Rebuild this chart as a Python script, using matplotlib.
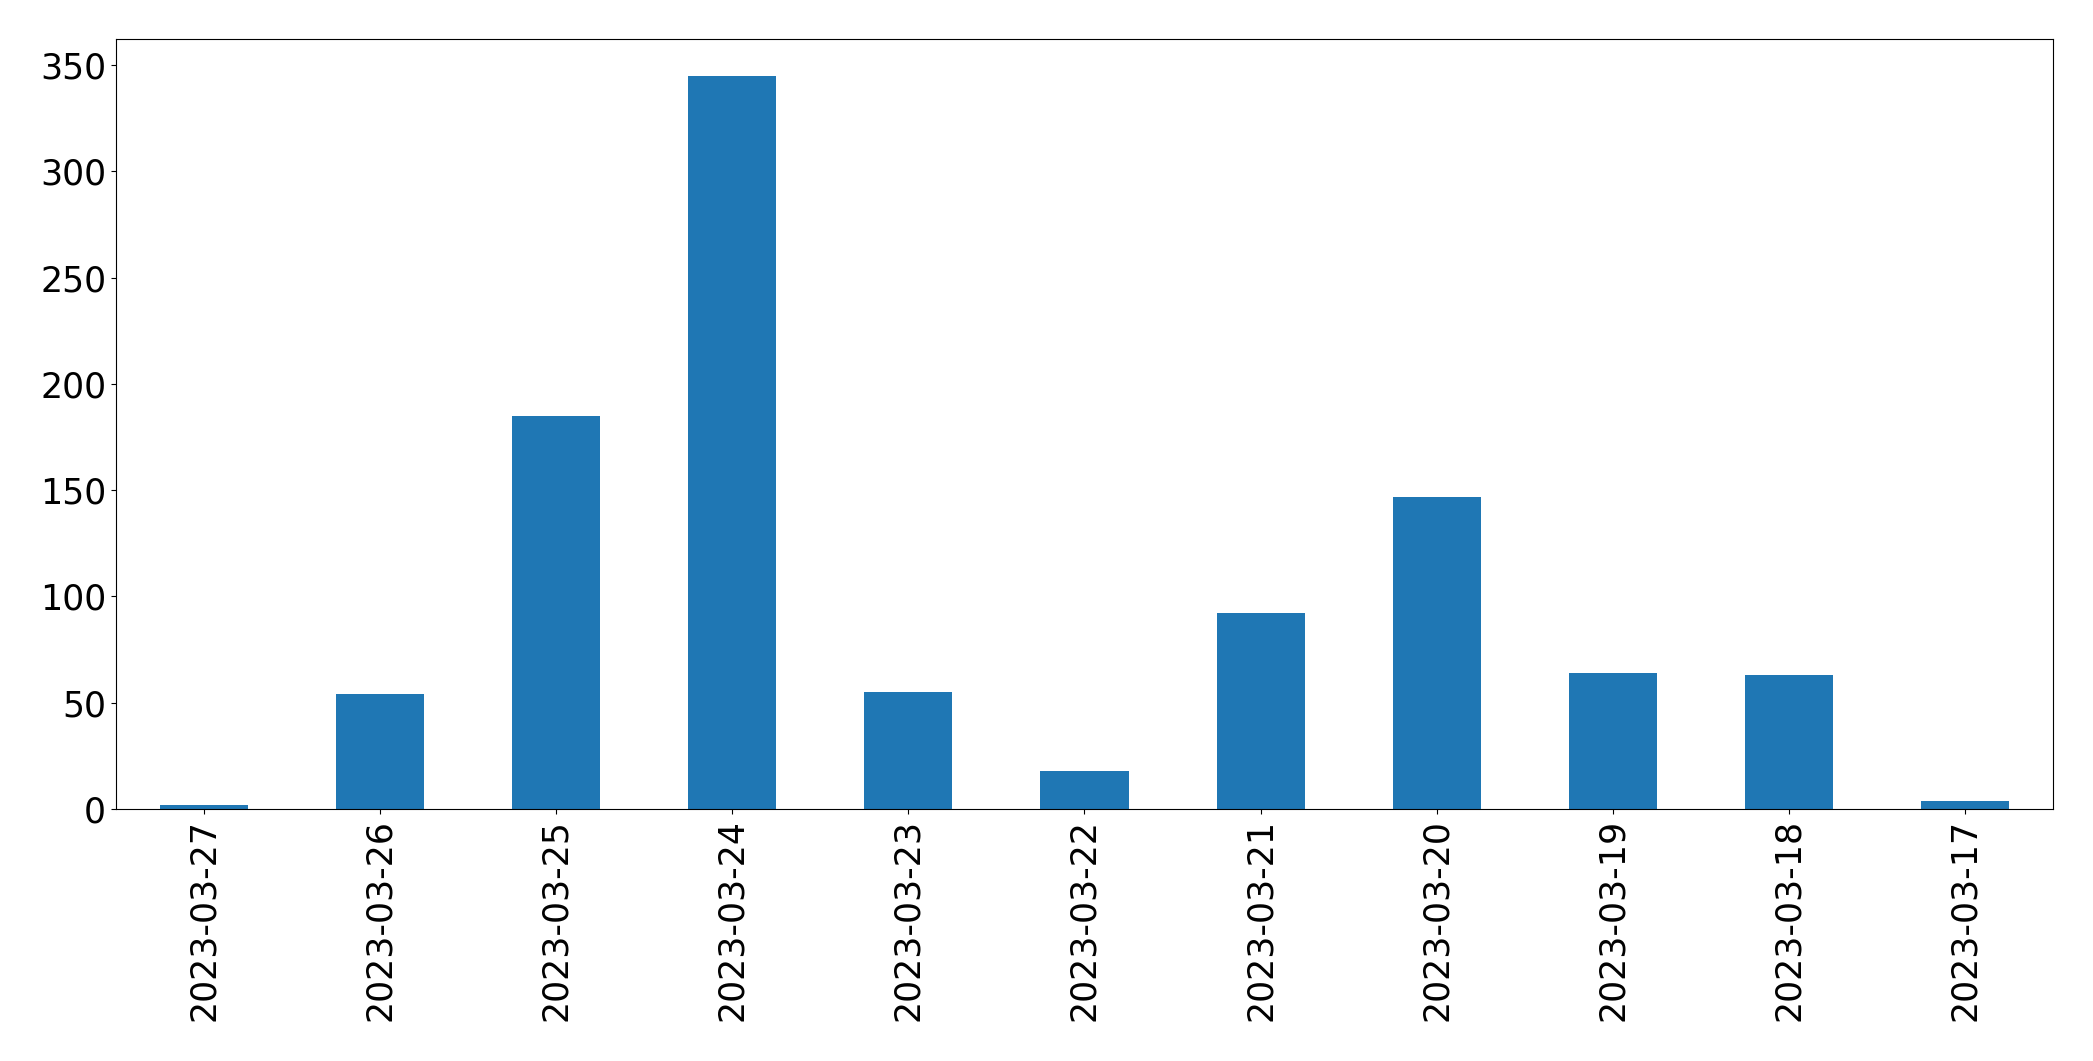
import matplotlib
matplotlib.use("Agg")
import matplotlib.pyplot as plt
import numpy as np

# daily counts, newest first (as in the reference)
dates = ["2023-03-27", "2023-03-26", "2023-03-25", "2023-03-24", "2023-03-23",
         "2023-03-22", "2023-03-21", "2023-03-20", "2023-03-19", "2023-03-18",
         "2023-03-17"]
counts = [2, 54, 185, 345, 55, 18, 92, 147, 64, 63, 4]

BAR_COLOR = "#1f77b4"
FS = 25

fig = plt.figure(figsize=(20.93, 10.61), dpi=100)
ax = fig.add_axes([0.0554, 0.2375, 0.9255, 0.7257])

x = np.arange(len(dates))
ax.bar(x, counts, width=0.5, color=BAR_COLOR)

ax.set_xticks(x)
ax.set_xticklabels(dates, rotation=90, fontsize=FS)
ax.tick_params(axis="y", labelsize=FS)
ax.set_xlim(-0.5, len(dates) - 0.5)
ax.set_ylim(0, max(counts) * 1.05)

fig.savefig("out.png", dpi=100)
